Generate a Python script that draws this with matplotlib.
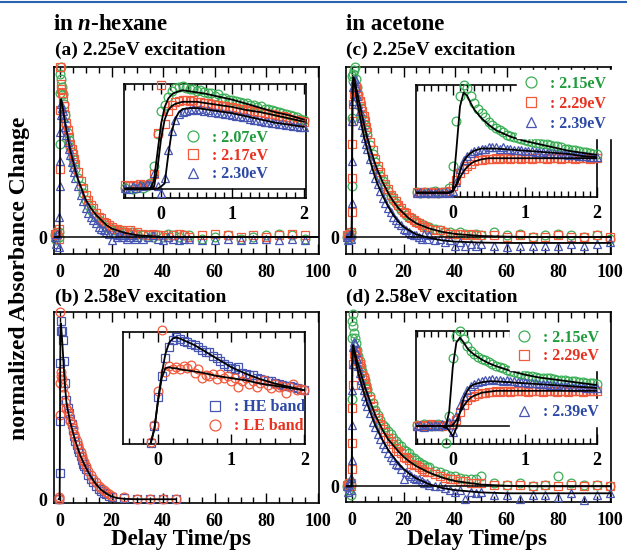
import matplotlib
matplotlib.use('Agg')
import matplotlib.pyplot as plt
from matplotlib.ticker import MultipleLocator
from matplotlib.lines import Line2D

plt.rcParams['font.family'] = ['Liberation Serif', 'DejaVu Serif']
plt.rcParams['font.weight'] = 'bold'
plt.rcParams['mathtext.fontset'] = 'custom'
plt.rcParams['mathtext.rm'] = 'Liberation Serif:bold'
plt.rcParams['mathtext.it'] = 'Liberation Serif:italic:bold'
plt.rcParams['mathtext.bf'] = 'Liberation Serif:bold'

# ---------------- time grids ----------------
T_MAIN = [-2, -1.5, -1, -0.5, -0.2, 0, 0.1, 0.2, 0.3, 0.5, 0.75,
          1, 1.5, 2, 2.5, 3, 3.5, 4, 4.5, 5, 5.5, 6,
          7, 8, 9, 10, 11, 12, 13, 14, 15, 16, 17, 18, 19, 20, 21, 22, 23, 24, 25, 26, 27, 28, 29, 30,
          32, 34, 36, 38, 40, 42, 44, 46, 48, 50,
          55, 60, 65, 70, 75, 80, 85, 90, 95]
T_MAIN_100 = T_MAIN + [100]
T_MAIN_B = [-0.5, -0.2, 0, 0.1, 0.2, 0.3, 0.5, 0.75,
            1, 1.5, 2, 2.5, 3, 3.5, 4, 4.5, 5, 5.5, 6, 6.5, 7, 7.5, 8, 8.5, 9, 9.5, 10,
            11, 12, 13, 14, 15, 16, 17, 18, 19, 20, 25, 30, 35, 40, 45]
T_FIT = [-2, -0.2, -0.1, 0, 0.1, 0.2, 0.3, 0.5, 1, 1.5, 2, 3, 4, 5, 6, 7, 8, 9, 10, 12, 14, 16, 18, 20,
         22, 25, 30, 35, 40, 50, 60, 70, 80, 90, 100]
T_FIT_B = [-0.5, -0.1, 0, 0.1, 0.2, 0.3, 0.5, 1, 1.5, 2, 2.5, 3, 4, 5, 6, 7, 8, 9, 10, 12, 14, 16, 18, 20,
           22, 25, 30, 35, 40, 45]
T_IN = [-0.5, -0.45, -0.4, -0.35, -0.3, -0.25, -0.2, -0.15, -0.1, -0.05,
        0.0, 0.05, 0.1, 0.15, 0.2, 0.25, 0.3, 0.35, 0.4, 0.45,
        0.5, 0.55, 0.6, 0.65, 0.7, 0.75, 0.8, 0.85, 0.9, 0.95,
        1.0, 1.05, 1.1, 1.15, 1.2, 1.25, 1.3, 1.35, 1.4, 1.45,
        1.5, 1.55, 1.6, 1.65, 1.7, 1.75, 1.8, 1.85, 1.9, 1.95, 2.0]
T_IN_B = [-0.1, -0.05, 0.0,
          0.05, 0.1, 0.15, 0.2, 0.25, 0.3, 0.35, 0.4, 0.45, 0.5,
          0.55, 0.6, 0.65, 0.7, 0.75, 0.8, 0.85, 0.9, 0.95, 1.0,
          1.05, 1.1, 1.15, 1.2, 1.25, 1.3, 1.35, 1.4, 1.45, 1.5,
          1.55, 1.6, 1.65, 1.7, 1.75, 1.8, 1.85, 1.9, 1.95, 2.0]
T_IN_FIT = [-0.5, -0.2, -0.15, -0.1, -0.05, 0.0, 0.05, 0.1, 0.15, 0.2, 0.25, 0.3, 0.4, 0.5, 0.6,
            0.8, 1.0, 1.2, 1.4, 1.6, 1.8, 2.0]
T_IN_FIT_B = [-0.1, -0.05, 0.0, 0.05, 0.1, 0.15, 0.2, 0.25, 0.3, 0.4, 0.5, 0.6, 0.8, 1.0, 1.2, 1.4, 1.6, 1.8, 2.0]

# ---------------- (a) n-hexane, 2.25 eV excitation ----------------
A_LABELS = [': 2.07eV', ': 2.17eV', ': 2.30eV']
A_GREEN = [0.01, -0.02, 0.02, 0.00, 0.03, 0.55, 0.85, 0.96, 1.00, 0.93, 0.88,
           0.84, 0.78, 0.72, 0.66, 0.61, 0.57, 0.53, 0.50, 0.46, 0.43, 0.40,
           0.35, 0.30, 0.26, 0.22, 0.19, 0.16, 0.14, 0.12, 0.10, 0.09, 0.08, 0.06, 0.06, 0.05, 0.04, 0.04,
           0.03, 0.03, 0.03, 0.02, 0.02, 0.03, 0.01, 0.02,
           0.01, 0.01, 0.00, 0.01, 0.00, 0.02, 0.01, 0.00, 0.01, 0.01,
           -0.01, 0.00, 0.01, -0.01, 0.00, 0.01, 0.02, 0.01, -0.01]
A_RED = [0.02, 0.01, 0.03, -0.01, 0.05, 0.40, 0.75, 1.00, 0.90, 0.87, 0.85,
         0.82, 0.77, 0.72, 0.67, 0.63, 0.59, 0.55, 0.52, 0.49, 0.46, 0.43,
         0.38, 0.33, 0.29, 0.25, 0.22, 0.19, 0.17, 0.14, 0.12, 0.11, 0.09, 0.08, 0.07, 0.06, 0.05, 0.05,
         0.04, 0.04, 0.03, 0.03, 0.04, 0.02, 0.02, 0.03,
         0.02, 0.01, 0.02, 0.01, 0.01, 0.00, 0.01, 0.02, 0.01, 0.00,
         0.01, 0.02, 0.01, 0.00, 0.01, 0.00, 0.01, 0.02, 0.01]
A_BLUE = [0.00, -0.04, 0.02, -0.06, 0.12, 0.30, 0.45, 0.62, 0.72, 0.78, 0.76,
          0.74, 0.70, 0.65, 0.60, 0.56, 0.52, 0.48, 0.44, 0.41, 0.38, 0.35,
          0.30, 0.25, 0.21, 0.17, 0.14, 0.12, 0.10, 0.08, 0.06, 0.05, 0.04, 0.03, 0.02, -0.02, 0.02, 0.00,
          0.01, 0.00, 0.01, -0.01, 0.00, 0.01, -0.01, 0.00,
          -0.01, 0.00, 0.01, -0.01, -0.02, 0.00, -0.01, -0.02, -0.01, -0.01,
          -0.02, -0.02, -0.01, -0.02, -0.01, -0.01, -0.02, -0.01, -0.02]
A_FIT = [0, 0, 0.05, 0.35, 0.65, 0.78, 0.81, 0.81, 0.77, 0.72, 0.67, 0.59, 0.51, 0.45, 0.39, 0.34, 0.30,
         0.26, 0.22, 0.17, 0.13, 0.10, 0.07, 0.05, 0.04, 0.025, 0.01, 0.005, 0.0, 0, 0, 0, 0, 0, 0]
AI_GREEN = [0.01, 0.02, 0.00, 0.01, 0.02, 0.01, 0.02, 0.05, 0.22, 0.52,
            0.74, 0.80, 0.88, 0.93, 0.96, 0.97, 0.98, 0.96, 0.95, 0.95,
            0.93, 0.94, 0.92, 0.91, 0.91, 0.89, 0.90, 0.87, 0.87, 0.85,
            0.85, 0.84, 0.83, 0.82, 0.82, 0.80, 0.80, 0.78, 0.79, 0.76,
            0.76, 0.75, 0.74, 0.73, 0.72, 0.71, 0.70, 0.69, 0.68, 0.67, 0.66]
AI_RED = [0.03, 0.02, 0.03, 0.02, 0.04, 0.03, 0.03, 0.04, 0.14, 0.53,
          0.99, 0.62, 0.74, 0.80, 0.83, 0.84, 0.85, 0.85, 0.84, 0.85,
          0.83, 0.83, 0.82, 0.82, 0.81, 0.80, 0.80, 0.79, 0.79, 0.78,
          0.78, 0.77, 0.76, 0.76, 0.75, 0.74, 0.74, 0.73, 0.73, 0.72,
          0.71, 0.71, 0.70, 0.69, 0.69, 0.68, 0.67, 0.66, 0.66, 0.65, 0.64]
AI_BLUE = [0.01, 0.00, 0.02, 0.01, 0.03, 0.02, 0.04, 0.03, 0.15, 0.02,
           -0.04, 0.10, 0.37, 0.55, 0.66, 0.71, 0.73, 0.74, 0.75, 0.76,
           0.75, 0.76, 0.74, 0.75, 0.73, 0.73, 0.72, 0.72, 0.71, 0.71,
           0.70, 0.69, 0.69, 0.68, 0.68, 0.67, 0.66, 0.66, 0.65, 0.64,
           0.64, 0.63, 0.63, 0.62, 0.62, 0.61, 0.61, 0.60, 0.60, 0.59, 0.59]
AI_FIT_GREEN = [0, 0, 0.0, 0.08, 0.35, 0.62, 0.78, 0.86, 0.90, 0.92, 0.93, 0.94, 0.93, 0.92, 0.91,
                0.88, 0.85, 0.81, 0.77, 0.73, 0.70, 0.66]
AI_FIT_RED = [0, 0, 0, 0.02, 0.20, 0.48, 0.66, 0.75, 0.79, 0.81, 0.82, 0.83, 0.83, 0.83, 0.82,
              0.80, 0.78, 0.75, 0.73, 0.70, 0.67, 0.64]
AI_FIT_BLUE = [0, 0, 0, 0, 0, 0.02, 0.05, 0.32, 0.55, 0.67, 0.73, 0.76, 0.77, 0.77, 0.76,
               0.74, 0.72, 0.69, 0.66, 0.63, 0.61, 0.59]

# ---------------- (b) n-hexane, 2.58 eV excitation ----------------
B_LABELS = [': HE band', ': LE band']
B_HE = [0.00, 0.00, 0.14, 0.42, 0.73, 0.90, 0.95, 0.90,
        0.85, 0.74, 0.62, 0.53, 0.49, 0.46, 0.43, 0.40, 0.37, 0.34, 0.31, 0.29, 0.27, 0.25, 0.23, 0.21,
        0.19, 0.18, 0.16,
        0.13, 0.11, 0.09, 0.07, 0.055, 0.045, 0.035, 0.027, 0.02, 0.012,
        0.005, 0.0, 0.0, 0.0, 0.0]
B_LE = [0.00, 0.01, 0.45, 1.00, 0.62, 0.68, 0.66, 0.64,
        0.60, 0.56, 0.52, 0.49, 0.47, 0.45, 0.42, 0.40, 0.38, 0.35, 0.33, 0.31, 0.29, 0.27, 0.25, 0.23,
        0.21, 0.20, 0.18,
        0.15, 0.13, 0.11, 0.09, 0.07, 0.06, 0.05, 0.04, 0.03, 0.02,
        0.01, 0.0, 0.0, 0.0, 0.0]
B_FIT = [0, 0, 0.3, 0.7, 0.9, 0.94, 0.92, 0.82, 0.70, 0.60, 0.52, 0.48, 0.41, 0.36, 0.31, 0.27, 0.23,
         0.20, 0.17, 0.12, 0.08, 0.05, 0.03, 0.015, 0.007, 0.002, 0.0, 0.0, 0.0, 0.0]
BI_HE = [-0.01, 0.14, 0.41,
         0.60, 0.76, 0.86, 0.93, 0.95, 0.94, 0.92, 0.91, 0.89, 0.88,
         0.86, 0.84, 0.82, 0.82, 0.78, 0.76, 0.74, 0.71, 0.69, 0.67,
         0.66, 0.68, 0.63, 0.62, 0.61, 0.61, 0.58, 0.57, 0.56, 0.55,
         0.55, 0.54, 0.53, 0.52, 0.51, 0.51, 0.50, 0.49, 0.48, 0.47]
BI_LE = [0.00, 0.15, 0.46,
         1.02, 0.64, 0.69, 0.66, 0.68, 0.66, 0.69, 0.67, 0.70, 0.63,
         0.66, 0.58, 0.61, 0.60, 0.62, 0.57, 0.62, 0.58, 0.60, 0.55,
         0.58, 0.50, 0.55, 0.58, 0.53, 0.55, 0.50, 0.54, 0.56, 0.52,
         0.49, 0.53, 0.50, 0.51, 0.44, 0.50, 0.53, 0.47, 0.48, 0.47]
BI_FIT_HE = [-0.01, 0.12, 0.38, 0.62, 0.80, 0.90, 0.94, 0.95, 0.94, 0.91, 0.88, 0.84, 0.76, 0.68, 0.62,
             0.57, 0.53, 0.50, 0.47]
BI_FIT_LE = [-0.01, 0.12, 0.38, 0.58, 0.67, 0.68, 0.67, 0.67, 0.66, 0.65, 0.64, 0.63, 0.60, 0.58, 0.56,
             0.53, 0.51, 0.49, 0.47]

# ---------------- (c) acetone, 2.25 eV excitation ----------------
C_LABELS = [': 2.15eV', ': 2.29eV', ': 2.39eV']
C_GREEN = [0.00, 0.02, -0.01, 0.03, 0.00, 0.30, 0.70, 0.95, 0.92, 0.96, 0.98,
           1.00, 0.93, 0.88, 0.84, 0.80, 0.76, 0.72, 0.69, 0.66, 0.63, 0.60,
           0.54, 0.49, 0.44, 0.40, 0.36, 0.33, 0.30, 0.27, 0.24, 0.22, 0.20, 0.18, 0.16, 0.15, 0.13, 0.12,
           0.11, 0.10, 0.09, 0.08, 0.07, 0.07, 0.06, 0.06,
           0.05, 0.04, 0.03, 0.03, 0.02, 0.03, 0.02, 0.01, 0.02, 0.01,
           0.03, 0.01, 0.02, 0.00, 0.01, 0.02, 0.01, 0.00, 0.01, -0.01]
C_RED = [0.01, 0.00, 0.02, 0.01, 0.03, 0.15, 0.35, 0.55, 0.68, 0.78, 0.84,
         0.87, 0.88, 0.86, 0.83, 0.80, 0.77, 0.74, 0.71, 0.68, 0.65, 0.62,
         0.56, 0.51, 0.46, 0.42, 0.38, 0.34, 0.31, 0.28, 0.25, 0.23, 0.21, 0.19, 0.17, 0.15, 0.14, 0.12,
         0.11, 0.10, 0.09, 0.08, 0.07, 0.06, 0.06, 0.05,
         0.04, 0.04, 0.03, 0.02, 0.02, 0.02, 0.01, 0.02, 0.01, 0.01,
         0.01, 0.00, 0.01, 0.00, 0.00, 0.01, 0.00, 0.00, 0.01, 0.00]
C_BLUE = [0.00, -0.02, 0.01, -0.01, 0.02, 0.20, 0.45, 0.68, 0.80, 0.88, 0.92,
          0.93, 0.88, 0.83, 0.78, 0.74, 0.70, 0.66, 0.62, 0.58, 0.55, 0.52,
          0.46, 0.40, 0.35, 0.31, 0.27, 0.23, 0.20, 0.17, 0.15, 0.12, 0.10, 0.08, 0.07, 0.05, 0.04, 0.03,
          0.02, 0.01, 0.01, 0.00, -0.01, 0.02, -0.01, 0.01,
          -0.02, -0.01, -0.03, -0.02, -0.05, -0.03, -0.05, -0.04, -0.05, -0.04,
          -0.05, -0.06, -0.05, -0.05, -0.05, -0.05, -0.04, -0.05, -0.04, -0.03]
C_FIT_UP = [0, 0, 0.02, 0.2, 0.55, 0.8, 0.9, 0.94, 0.93, 0.89, 0.85, 0.78, 0.71, 0.64, 0.58, 0.53, 0.48,
            0.43, 0.39, 0.32, 0.26, 0.21, 0.17, 0.14, 0.11, 0.08, 0.05, 0.03, 0.018, 0.006, 0.002,
            0, 0, 0, 0]
C_FIT_LO = [0, 0, 0.02, 0.2, 0.55, 0.8, 0.88, 0.91, 0.90, 0.85, 0.80, 0.72, 0.64, 0.57, 0.51, 0.45, 0.40,
            0.35, 0.31, 0.24, 0.18, 0.13, 0.09, 0.06, 0.04, 0.015, -0.005, -0.02, -0.027, -0.033, -0.035,
            -0.035, -0.035, -0.035, -0.035]
CI_GREEN = [0.01, 0.00, 0.01, 0.00, 0.01, 0.02, 0.00, 0.01, 0.01, 0.04,
            0.25, 0.67, 0.90, 1.00, 0.97, 0.90, 0.83, 0.78, 0.74, 0.70,
            0.66, 0.63, 0.60, 0.58, 0.56, 0.54, 0.53, 0.52, 0.51, 0.50,
            0.49, 0.48, 0.47, 0.46, 0.46, 0.45, 0.45, 0.44, 0.43, 0.43,
            0.42, 0.41, 0.41, 0.40, 0.40, 0.39, 0.38, 0.38, 0.37, 0.36, 0.36]
CI_RED = [0.01, 0.00, 0.01, 0.01, 0.00, 0.01, 0.00, 0.01, 0.01, 0.02,
          0.06, 0.12, 0.18, 0.22, 0.25, 0.27, 0.29, 0.30, 0.30, 0.31,
          0.31, 0.31, 0.32, 0.31, 0.32, 0.32, 0.31, 0.32, 0.32, 0.31,
          0.32, 0.32, 0.31, 0.32, 0.32, 0.32, 0.31, 0.32, 0.32, 0.32,
          0.31, 0.32, 0.32, 0.32, 0.31, 0.32, 0.32, 0.32, 0.31, 0.32, 0.32]
CI_BLUE = [0.00, 0.01, 0.00, 0.01, 0.00, 0.00, 0.01, 0.00, 0.01, 0.00,
           0.02, 0.10, 0.22, 0.30, 0.34, 0.37, 0.39, 0.40, 0.41, 0.41,
           0.42, 0.42, 0.42, 0.41, 0.42, 0.41, 0.41, 0.40, 0.40, 0.40,
           0.39, 0.39, 0.39, 0.38, 0.38, 0.38, 0.37, 0.37, 0.37, 0.36,
           0.36, 0.36, 0.35, 0.35, 0.35, 0.34, 0.34, 0.34, 0.33, 0.33, 0.33]
CI_FIT_GREEN = [0, 0, 0, 0, 0, 0.02, 0.40, 0.80, 0.93, 0.90, 0.83, 0.77, 0.69, 0.63, 0.58,
                0.52, 0.48, 0.45, 0.42, 0.39, 0.37, 0.35]
CI_FIT_RED = [0, 0, 0, 0, 0, 0.02, 0.07, 0.14, 0.20, 0.24, 0.27, 0.29, 0.31, 0.32, 0.32,
              0.32, 0.32, 0.32, 0.32, 0.32, 0.32, 0.32]
CI_FIT_BLUE = [0, 0, 0, 0, 0, 0.01, 0.08, 0.20, 0.29, 0.34, 0.37, 0.39, 0.41, 0.41, 0.41,
               0.40, 0.39, 0.38, 0.37, 0.36, 0.34, 0.33]

# ---------------- (d) acetone, 2.58 eV excitation ----------------
D_LABELS = [': 2.15eV', ': 2.29eV', ': 2.39eV']
D_GREEN = [0.00, 0.02, -0.02, 0.01, -0.05, 0.50, 0.85, 0.95, 0.99, 0.92, 0.88,
           0.85, 0.82, 0.78, 0.75, 0.72, 0.69, 0.66, 0.63, 0.61, 0.58, 0.56,
           0.52, 0.48, 0.44, 0.41, 0.38, 0.35, 0.34, 0.32, 0.30, 0.28, 0.26, 0.24, 0.23, 0.21, 0.20, 0.19,
           0.17, 0.16, 0.15, 0.14, 0.13, 0.12, 0.11, 0.11,
           0.09, 0.08, 0.07, 0.06, 0.06, 0.05, 0.04, 0.04, 0.04, 0.06,
           0.02, 0.01, 0.02, 0.00, 0.01, 0.06, 0.02, 0.01, 0.01, 0.00]
D_RED = [0.01, 0.00, 0.02, 0.00, 0.02, 0.10, 0.25, 0.45, 0.58, 0.70, 0.76,
         0.78, 0.77, 0.75, 0.72, 0.70, 0.67, 0.64, 0.62, 0.59, 0.57, 0.54,
         0.50, 0.46, 0.42, 0.39, 0.36, 0.33, 0.31, 0.28, 0.26, 0.24, 0.22, 0.20, 0.19, 0.17, 0.16, 0.15,
         0.13, 0.12, 0.12, 0.11, 0.10, 0.09, 0.08, 0.08,
         0.07, 0.06, 0.05, 0.04, 0.04, 0.03, 0.03, 0.02, 0.02, 0.02,
         0.01, 0.01, 0.01, 0.00, 0.01, 0.00, 0.01, 0.00, 0.01, 0.00]
D_BLUE = [0.00, -0.03, 0.02, -0.02, 0.05, 0.15, 0.35, 0.55, 0.70, 0.80, 0.83,
          0.82, 0.77, 0.73, 0.69, 0.65, 0.61, 0.58, 0.55, 0.52, 0.49, 0.46,
          0.42, 0.37, 0.34, 0.30, 0.27, 0.24, 0.22, 0.19, 0.17, 0.15, 0.13, 0.12, 0.10, 0.04, 0.08, 0.07,
          0.06, 0.05, 0.04, 0.04, 0.03, 0.02, 0.02, 0.01,
          0.00, 0.00, -0.01, -0.02, -0.03, -0.02, -0.07, -0.03, -0.04, -0.03,
          -0.05, -0.05, -0.07, -0.05, -0.05, -0.06, -0.04, -0.08, -0.05, -0.04]
D_FIT_UP = [0, 0, 0.02, 0.25, 0.6, 0.76, 0.8, 0.81, 0.78, 0.75, 0.72, 0.67, 0.62, 0.57, 0.53, 0.49, 0.45,
            0.41, 0.38, 0.32, 0.27, 0.235, 0.20, 0.17, 0.145, 0.115, 0.078, 0.05, 0.03, 0.01, 0.003,
            0, 0, 0, 0]
D_FIT_LO = [0, 0, 0.02, 0.25, 0.6, 0.75, 0.79, 0.79, 0.76, 0.72, 0.68, 0.62, 0.57, 0.52, 0.47, 0.43, 0.39,
            0.35, 0.32, 0.26, 0.21, 0.17, 0.13, 0.10, 0.075, 0.045, 0.012, -0.01, -0.022, -0.035, -0.04,
            -0.04, -0.04, -0.04, -0.04]
DI_GREEN = [0.01, 0.00, 0.02, 0.01, 0.00, 0.01, 0.02, 0.00, -0.18, 0.10,
            0.72, 0.95, 1.00, 0.92, 0.84, 0.79, 0.76, 0.73, 0.71, 0.69,
            0.67, 0.65, 0.63, 0.62, 0.61, 0.59, 0.58, 0.57, 0.56, 0.55,
            0.54, 0.53, 0.53, 0.52, 0.51, 0.51, 0.50, 0.50, 0.49, 0.48,
            0.48, 0.48, 0.47, 0.47, 0.47, 0.46, 0.46, 0.45, 0.45, 0.45, 0.44]
DI_RED = [0.00, 0.01, 0.00, 0.01, 0.02, 0.00, 0.01, 0.00, 0.01, 0.01,
          0.02, 0.06, 0.15, 0.22, 0.27, 0.30, 0.32, 0.34, 0.35, 0.35,
          0.36, 0.36, 0.37, 0.36, 0.37, 0.37, 0.36, 0.37, 0.37, 0.37,
          0.37, 0.36, 0.37, 0.37, 0.37, 0.36, 0.37, 0.37, 0.37, 0.36,
          0.37, 0.37, 0.36, 0.37, 0.37, 0.37, 0.36, 0.37, 0.37, 0.37, 0.37]
DI_BLUE = [0.00, 0.01, -0.01, 0.01, 0.00, 0.01, 0.00, 0.02, 0.01, 0.04,
           -0.06, 0.10, 0.22, 0.32, 0.38, 0.42, 0.44, 0.46, 0.47, 0.48,
           0.48, 0.49, 0.48, 0.48, 0.47, 0.48, 0.47, 0.47, 0.46, 0.46,
           0.46, 0.45, 0.45, 0.45, 0.44, 0.44, 0.44, 0.43, 0.43, 0.43,
           0.42, 0.42, 0.42, 0.41, 0.41, 0.41, 0.41, 0.40, 0.40, 0.40, 0.40]
DI_FIT_GREEN = [0, 0, 0, -0.02, 0.15, 0.62, 0.88, 0.93, 0.88, 0.82, 0.78, 0.75, 0.70, 0.66, 0.63,
                0.58, 0.54, 0.51, 0.49, 0.47, 0.45, 0.43]
DI_FIT_RED = [0, 0, 0, 0, 0, 0.01, 0.06, 0.14, 0.21, 0.26, 0.30, 0.32, 0.35, 0.36, 0.37,
              0.37, 0.37, 0.37, 0.37, 0.37, 0.37, 0.37]
DI_FIT_BLUE = [0, 0, 0, 0, -0.05, -0.11, -0.02, 0.15, 0.29, 0.37, 0.42, 0.44, 0.46, 0.47, 0.47,
               0.46, 0.45, 0.44, 0.43, 0.42, 0.41, 0.40]

# ---------------- styling ----------------
GREEN, RED, BLUE = '#3aae55', '#f25a3c', '#4655b2'
GREEN_T, RED_T, BLUE_T = '#1e9b3b', '#e8321f', '#2c49a5'
W, H = 627, 554


def fr(l, t, r, b):
    return [l / W, 1 - b / H, (r - l) / W, (b - t) / H]


def pts(ax, t, v, marker, color, ms=6.3):
    return ax.plot(t, v, ls='none', marker=marker, ms=ms, mfc='none', mec=color, mew=0.9,
                   clip_on=False, zorder=3)[0]


def fit(ax, t, v):
    ax.plot(t, v, color='black', lw=1.3, zorder=4)


def style_main(ax, ylim):
    ax.set_xlim(-2.3, 100.4)
    ax.set_ylim(*ylim)
    ax.xaxis.set_major_locator(MultipleLocator(20))
    ax.xaxis.set_minor_locator(MultipleLocator(5))
    ax.tick_params(axis='x', which='both', direction='in', top=True, bottom=True,
                   labelsize=13, pad=7, width=1.0)
    ax.tick_params(axis='x', which='major', length=7)
    ax.tick_params(axis='x', which='minor', length=4)
    ax.set_yticks([0])
    ax.set_yticklabels(['0'])
    ax.tick_params(axis='y', length=0, pad=5, labelsize=13)
    for s in ax.spines.values():
        s.set_linewidth(1.2)


def style_inset(ax, xlim, ylim, minor):
    ax.set_xlim(*xlim)
    ax.set_ylim(*ylim)
    ax.set_xticks([0, 1, 2])
    ax.xaxis.set_minor_locator(MultipleLocator(minor))
    ax.tick_params(axis='x', which='both', direction='in', top=True, bottom=True,
                   labelsize=13, pad=6, width=1.0)
    ax.tick_params(axis='x', which='major', length=7)
    ax.tick_params(axis='x', which='minor', length=4)
    ax.set_yticks([])
    for s in ax.spines.values():
        s.set_linewidth(1.2)


def legend(ax, handles, labels, colors, anchor, framed, fs=11.5, spacing=0.3):
    lg = ax.legend(handles, labels, loc='upper left', bbox_to_anchor=anchor,
                   frameon=framed, handlelength=1.0, handletextpad=0.7,
                   borderpad=0.35 if framed else 0, borderaxespad=0, labelspacing=spacing,
                   markerscale=1.25, fancybox=False, prop={'weight': 'bold', 'size': fs})
    if framed:
        lg.get_frame().set_facecolor('white')
        lg.get_frame().set_edgecolor('white')
        lg.get_frame().set_alpha(1)
    for txt, c in zip(lg.get_texts(), colors):
        txt.set_color(c)
    return lg


fig = plt.figure(figsize=(W / 100, H / 100), dpi=100)

# ---------- (a) ----------
ax = fig.add_axes(fr(54, 67, 319, 254))
pts(ax, T_MAIN, A_GREEN, 'o', GREEN)
pts(ax, T_MAIN, A_RED, 's', RED)
pts(ax, T_MAIN, A_BLUE, '^', BLUE)
ax.axhline(0, color='black', lw=1.1, zorder=4)
fit(ax, T_FIT, A_FIT)
style_main(ax, (-0.1, 1.0))

ia = fig.add_axes(fr(124, 84, 306, 198))
hg = pts(ia, T_IN, AI_GREEN, 'o', GREEN)
hr = pts(ia, T_IN, AI_RED, 's', RED)
hb = pts(ia, T_IN, AI_BLUE, '^', BLUE)
ia.axhline(0, color='black', lw=1.1, zorder=4)
fit(ia, T_IN_FIT, AI_FIT_GREEN)
fit(ia, T_IN_FIT, AI_FIT_RED)
fit(ia, T_IN_FIT, AI_FIT_BLUE)
style_inset(ia, (-0.52, 2.03), (-0.09, 1.0), 0.125)
legend(ia, [hg, hr, hb], A_LABELS, [GREEN_T, RED_T, BLUE_T], (0.335, 0.60), False, spacing=0.15)

# ---------- (b) ----------
ax = fig.add_axes(fr(54, 312, 319, 503))
pts(ax, T_MAIN_B, B_HE, 's', BLUE)
pts(ax, T_MAIN_B, B_LE, 'o', RED)
fit(ax, T_FIT_B, B_FIT)
style_main(ax, (-0.02, 1.0))

ib = fig.add_axes(fr(123, 332, 305, 444))
h1 = pts(ib, T_IN_B, BI_HE, 's', BLUE)
h2 = pts(ib, T_IN_B, BI_LE, 'o', RED)
fit(ib, T_IN_FIT_B, BI_FIT_HE)
fit(ib, T_IN_FIT_B, BI_FIT_LE)
style_inset(ib, (-0.48, 2.01), (-0.02, 1.0), 0.2)
legend(ib, [h1, h2], B_LABELS, [BLUE_T, RED_T], (0.46, 0.40), False, spacing=0.2)

# ---------- (c) ----------
ax = fig.add_axes(fr(346, 67, 611, 254))
pts(ax, T_MAIN_100, C_GREEN, 'o', GREEN)
pts(ax, T_MAIN_100, C_RED, 's', RED)
pts(ax, T_MAIN_100, C_BLUE, '^', BLUE)
ax.axhline(0, color='black', lw=1.1, zorder=4)
fit(ax, T_FIT, C_FIT_UP)
fit(ax, T_FIT, C_FIT_LO)
style_main(ax, (-0.1, 1.0))

ic = fig.add_axes(fr(416, 85, 597, 197))
hg = pts(ic, T_IN, CI_GREEN, 'o', GREEN)
hr = pts(ic, T_IN, CI_RED, 's', RED)
hb = pts(ic, T_IN, CI_BLUE, '^', BLUE)
fit(ic, T_IN_FIT, CI_FIT_GREEN)
fit(ic, T_IN_FIT, CI_FIT_RED)
fit(ic, T_IN_FIT, CI_FIT_BLUE)
style_inset(ic, (-0.51, 2.0), (-0.04, 1.0), 0.1)
legend(ic, [hg, hr, hb], C_LABELS, [GREEN_T, RED_T, BLUE_T], (0.56, 1.13), True, spacing=0.25)

# ---------- (d) ----------
ax = fig.add_axes(fr(346, 312, 611, 502))
pts(ax, T_MAIN_100, D_GREEN, 'o', GREEN)
pts(ax, T_MAIN_100, D_RED, 's', RED)
pts(ax, T_MAIN_100, D_BLUE, '^', BLUE)
ax.axhline(0, color='black', lw=1.1, zorder=4)
fit(ax, T_FIT, D_FIT_UP)
fit(ax, T_FIT, D_FIT_LO)
style_main(ax, (-0.09, 1.0))

idd = fig.add_axes(fr(416, 331, 597, 444))
hg = pts(idd, T_IN, DI_GREEN, 'o', GREEN)
hr = pts(idd, T_IN, DI_RED, 's', RED)
hb = pts(idd, T_IN, DI_BLUE, '^', BLUE)
idd.axhline(0, color='black', lw=1.1, zorder=4)
fit(idd, T_IN_FIT, DI_FIT_GREEN)
fit(idd, T_IN_FIT, DI_FIT_RED)
fit(idd, T_IN_FIT, DI_FIT_BLUE)
style_inset(idd, (-0.51, 2.0), (-0.19, 1.0), 0.1)
lg1 = legend(idd, [hg, hr], D_LABELS[:2], [GREEN_T, RED_T], (0.52, 1.06), True, spacing=0.15)
idd.add_artist(lg1)
legend(idd, [hb], D_LABELS[2:], [BLUE_T], (0.52, 0.40), True)

# ---------- texts ----------
fig.text(53 / W, 1 - 25 / H, r'in $\mathit{n}$-hexane', fontsize=16.5, ha='left', va='center')
fig.text(346 / W, 1 - 25 / H, 'in acetone', fontsize=16.5, ha='left', va='center')
fig.text(55 / W, 1 - 50 / H, '(a) 2.25eV excitation', fontsize=14, ha='left', va='center')
fig.text(346 / W, 1 - 50 / H, '(c) 2.25eV excitation', fontsize=14, ha='left', va='center')
fig.text(55 / W, 1 - 297 / H, '(b) 2.58eV excitation', fontsize=14, ha='left', va='center')
fig.text(346 / W, 1 - 297 / H, '(d) 2.58eV excitation', fontsize=14, ha='left', va='center')
fig.text(181 / W, 1 - 540 / H, 'Delay Time/ps', fontsize=16.5, ha='center', va='center')
fig.text(477 / W, 1 - 540 / H, 'Delay Time/ps', fontsize=16.5, ha='center', va='center')
fig.text(20 / W, 1 - 278 / H, 'normalized Absorbance Change', fontsize=17, rotation=90,
         ha='center', va='center')

fig.add_artist(Line2D([0, 1], [1 - 1.5 / H, 1 - 1.5 / H], transform=fig.transFigure,
                      color='#2a64b0', lw=1.5))

fig.savefig('out.png', dpi=100)
